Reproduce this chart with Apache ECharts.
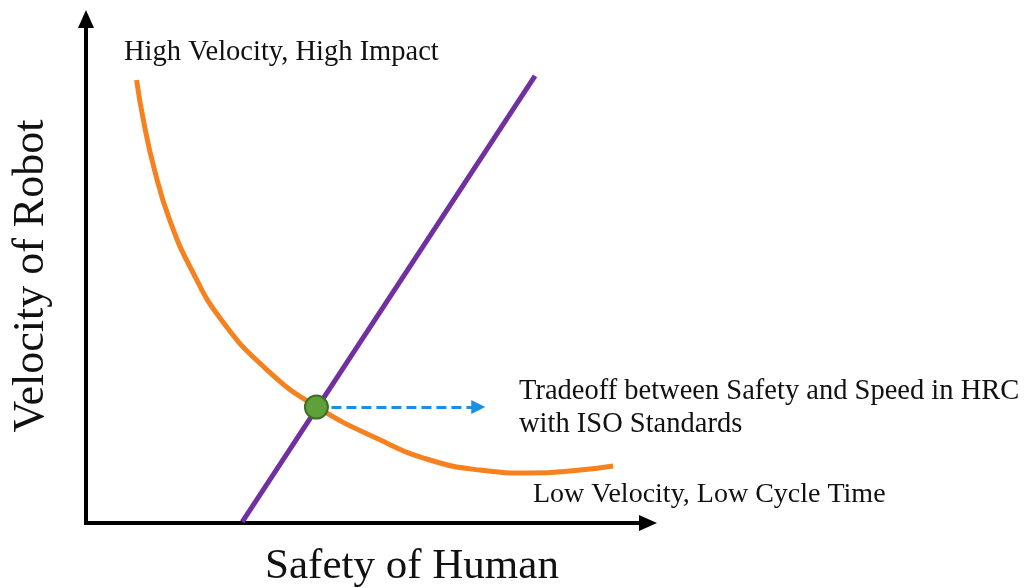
<!DOCTYPE html>
<html>
<head>
<meta charset="utf-8">
<script src="https://cdn.jsdelivr.net/npm/echarts@6/dist/echarts.min.js"></script>
<style>
  html, body { margin: 0; padding: 0; background: #fff; }
  #chart { width: 1024px; height: 588px; }
</style>
</head>
<body>
<div id="chart"></div>
<script>
// impact curve: velocity of robot vs safety of human (0-100 scale)
const curveX = [9.0, 10.2, 12.2, 14.9, 18.8, 24.1, 32.2, 41.0, 52.3, 61.2, 70.1, 79.0, 87.9, 93.8];
const curveY = [87.9, 80.0, 70.0, 60.1, 50.2, 40.3, 30.4, 23.1, 16.5, 12.5, 10.5, 9.9, 10.5, 11.3];

// straight trade-off line
const tradeX = [27.8, 79.9];
const tradeY = [0.2, 88.7];

// balance point and where the arrow ends
const balancePoint = [41.0, 23.0];
const arrowEndX = 69.8;

const serif = '"Liberation Serif", "Times New Roman", serif';

const chart = echarts.init(document.getElementById('chart'), null, { renderer: 'canvas' });

const axisCommon = {
  type: 'value',
  min: 0,
  max: 100,
  splitLine: { show: false },
  axisTick: { show: false },
  axisLabel: { show: false },
  axisLine: {
    show: true,
    symbol: ['none', 'triangle'],
    symbolSize: [16, 18],
    lineStyle: { color: '#000', width: 4, cap: 'square' }
  }
};

chart.setOption({
  animation: false,
  backgroundColor: '#fff',
  grid: { left: 86, top: 19, right: 376, bottom: 65 },
  xAxis: axisCommon,
  yAxis: axisCommon,
  series: [
    {
      type: 'line',
      smooth: 0.5,
      showSymbol: false,
      data: curveX.map((x, i) => [x, curveY[i]]),
      lineStyle: { color: '#F5821F', width: 5 },
      z: 2
    },
    {
      type: 'line',
      showSymbol: false,
      data: tradeX.map((x, i) => [x, tradeY[i]]),
      lineStyle: { color: '#7030A0', width: 5 },
      z: 3
    },
    {
      type: 'lines',
      coordinateSystem: 'cartesian2d',
      symbol: ['none', 'triangle'],
      symbolSize: 14,
      lineStyle: { color: '#1A8FE3', width: 3, type: [10, 5], opacity: 1 },
      data: [{ coords: [balancePoint, [arrowEndX, balancePoint[1]]] }],
      z: 4
    },
    {
      type: 'scatter',
      symbolSize: 23,
      data: [balancePoint],
      itemStyle: { color: '#60A03B', borderColor: '#3E6E28', borderWidth: 2, opacity: 1 },
      z: 5
    }
  ],
  graphic: [
    {
      type: 'text', x: 124, y: 53,
      style: { text: 'High Velocity, High Impact', font: '28.5px ' + serif, fill: '#111', align: 'left', verticalAlign: 'middle' }
    },
    {
      type: 'text', x: 519, y: 392,
      style: { text: 'Tradeoff between Safety and Speed in HRC', font: '28.5px ' + serif, fill: '#111', align: 'left', verticalAlign: 'middle' }
    },
    {
      type: 'text', x: 519, y: 425,
      style: { text: 'with ISO Standards', font: '28.5px ' + serif, fill: '#111', align: 'left', verticalAlign: 'middle' }
    },
    {
      type: 'text', x: 533, y: 495,
      style: { text: 'Low Velocity, Low Cycle Time', font: '28px ' + serif, fill: '#111', align: 'left', verticalAlign: 'middle' }
    },
    {
      type: 'text', x: 412, y: 567,
      style: { text: 'Safety of Human', font: '43px ' + serif, fill: '#111', align: 'center', verticalAlign: 'middle' }
    },
    {
      type: 'text', x: 31, y: 276, rotation: Math.PI / 2,
      style: { text: 'Velocity of Robot', font: '44px ' + serif, fill: '#111', align: 'center', verticalAlign: 'middle' }
    }
  ]
});
</script>
</body>
</html>
